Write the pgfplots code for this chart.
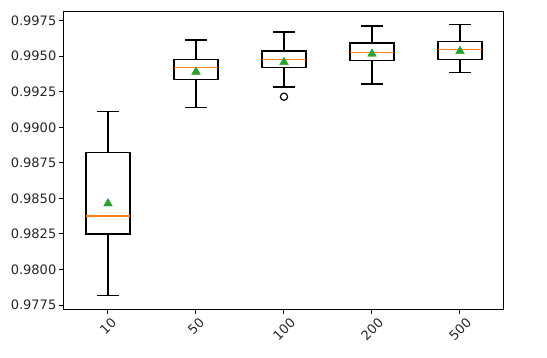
\documentclass[border=0pt]{standalone}
\usepackage{pgfplots}
\pgfplotsset{compat=1.18}
\usepackage{graphicx}
\usepackage{fontspec}
\setmainfont{DejaVu Sans}
\definecolor{mplorange}{HTML}{FF7F0E}
\definecolor{mplgreen}{HTML}{2CA02C}
\definecolor{txt}{HTML}{262626}
\begin{document}
\begin{tikzpicture}
\useasboundingbox (-64pt,-48.7pt) rectangle (483pt,309.3pt);
\begin{axis}[
  scale only axis,
  width=440pt, height=297.6pt,
  xmin=0.5, xmax=5.5,
  ymin=0.97720, ymax=0.99813,
  unbounded coords=jump,
  xtick={1,2,3,4,5},
  xticklabels={\rotatebox{45}{10},\rotatebox{45}{50},\rotatebox{45}{100},\rotatebox{45}{200},\rotatebox{45}{500}},
  xticklabel style={anchor=north, inner sep=0pt, yshift=-3pt},
  ytick={0.9775,0.98,0.9825,0.985,0.9875,0.99,0.9925,0.995,0.9975},
  yticklabel style={/pgf/number format/fixed, /pgf/number format/fixed zerofill, /pgf/number format/precision=4, /pgf/number format/assume math mode=true, inner sep=0pt, xshift=-3pt},
  ticklabel style={font=\fontsize{13}{15}\selectfont, text=txt},
  tick align=outside,
  xtick pos=left, ytick pos=left,
  major tick length=4.5pt,
  tick style={line width=1pt, black},
  axis line style={line width=1pt, black},
]
% boxes (lower quartile to upper quartile)
\addplot[black, line width=1.2pt, line cap=rect, mark=none] coordinates {
(0.75,0.98250)(1.25,0.98250)(1.25,0.98821)(0.75,0.98821)(0.75,0.98250)(1,nan)
(1.75,0.99335)(2.25,0.99335)(2.25,0.99478)(1.75,0.99478)(1.75,0.99335)(2,nan)
(2.75,0.99419)(3.25,0.99419)(3.25,0.99537)(2.75,0.99537)(2.75,0.99419)(3,nan)
(3.75,0.99469)(4.25,0.99469)(4.25,0.99593)(3.75,0.99593)(3.75,0.99469)(4,nan)
(4.75,0.99478)(5.25,0.99478)(5.25,0.99605)(4.75,0.99605)(4.75,0.99478)
};
% whiskers and caps
\addplot[black, line width=1.2pt, mark=none] coordinates {
(1,0.98250)(1,0.97815)(1,nan)(0.875,0.97815)(1.125,0.97815)(1,nan)
(1,0.98821)(1,0.99110)(1,nan)(0.875,0.99110)(1.125,0.99110)(1,nan)
(2,0.99335)(2,0.99140)(2,nan)(1.875,0.99140)(2.125,0.99140)(2,nan)
(2,0.99478)(2,0.99614)(2,nan)(1.875,0.99614)(2.125,0.99614)(2,nan)
(3,0.99419)(3,0.99283)(3,nan)(2.875,0.99283)(3.125,0.99283)(3,nan)
(3,0.99537)(3,0.99670)(3,nan)(2.875,0.99670)(3.125,0.99670)(3,nan)
(4,0.99469)(4,0.99304)(4,nan)(3.875,0.99304)(4.125,0.99304)(4,nan)
(4,0.99593)(4,0.99712)(4,nan)(3.875,0.99712)(4.125,0.99712)(4,nan)
(5,0.99478)(5,0.99384)(5,nan)(4.875,0.99384)(5.125,0.99384)(5,nan)
(5,0.99605)(5,0.99722)(5,nan)(4.875,0.99722)(5.125,0.99722)
};
% medians
\addplot[mplorange, line width=1.4pt, mark=none] coordinates {(0.75,0.98376)(1.25,0.98376)};
\addplot[mplorange, line width=1.4pt, mark=none] coordinates {(1.75,0.99422)(2.25,0.99422)};
\addplot[mplorange, line width=1.4pt, mark=none] coordinates {(2.75,0.99478)(3.25,0.99478)};
\addplot[mplorange, line width=1.4pt, mark=none] coordinates {(3.75,0.99527)(4.25,0.99527)};
\addplot[mplorange, line width=1.4pt, mark=none] coordinates {(4.75,0.99548)(5.25,0.99548)};
% outliers
\addplot[black, only marks, mark=o, mark size=3.6pt, mark options={line width=1.2pt}] coordinates {(3,0.99215)};
% means
\addplot[only marks, mark=triangle*, mark size=5pt, mark options={draw=mplgreen, fill=mplgreen, line width=0.4pt}] coordinates {
(1,0.98464)(2,0.99390)(3,0.99458)(4,0.99517)(5,0.99536)
};
\end{axis}
\end{tikzpicture}
\end{document}
